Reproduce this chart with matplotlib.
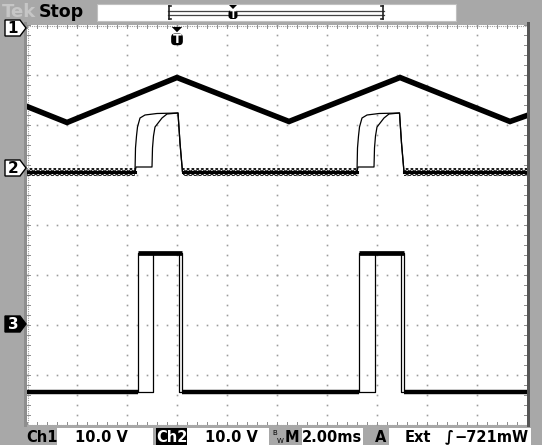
import matplotlib
matplotlib.use("Agg")
import matplotlib.pyplot as plt
from matplotlib.patches import Rectangle, Polygon, FancyBboxPatch
import numpy as np

# ---------------- data ----------------
time_div_ms = 2.0          # 2.00 ms/div
volts_per_div = 10.0       # 10.0 V/div

# Channel 1: triangle wave (breakpoints)
ch1_t_ms = [-6.0, -4.4, 0.0, 4.48, 8.92, 13.32, 14.0]
ch1_volts = [-15.8, -19.0, -10.0, -18.8, -10.0, -18.8, -17.6]

# Channel 2: two persisted acquisitions (A and B)
ch2a_t_ms = [-6.0, -1.68, -1.66, -1.62, -1.58, -1.48, -1.28, -0.8, 0.04, 0.12, 0.22,
             7.2, 7.22, 7.26, 7.30, 7.40, 7.60, 8.08, 8.90, 8.98, 9.08, 14.0]
ch2a_volts = [-0.8, -0.8, 4.0, 6.4, 8.2, 10.0, 10.6, 10.9, 11.0, 5.0, -0.8,
              -0.8, 4.0, 6.4, 8.2, 10.0, 10.6, 10.9, 11.0, 5.0, -0.8, -0.8]
ch2b_t_ms = [-6.0, -1.68, -1.64, -1.0, -0.98, -0.94, -0.88, -0.6, -0.4, 0.04, 0.12, 0.22,
             7.2, 7.24, 7.88, 7.90, 7.94, 8.00, 8.28, 8.48, 8.90, 8.98, 9.08, 14.0]
ch2b_volts = [-0.8, -0.8, 0.2, 0.2, 4.0, 6.4, 8.2, 10.0, 10.8, 11.0, 5.0, -0.8,
              -0.8, 0.2, 0.2, 4.0, 6.4, 8.2, 10.0, 10.8, 11.0, 5.0, -0.8, -0.8]

# Channel 3: two persisted pulse trains (edges in ms)
ch3_low_volts = -13.6
ch3_high_volts = 14.2
ch3a_rise_ms = [-1.56, 7.28]
ch3a_fall_ms = [0.08, 8.96]
ch3b_rise_ms = [-0.96, 7.92]
ch3b_fall_ms = [0.20, 9.08]

# On-screen readouts
top_status = ["Tek", "Stop"]
bottom_labels = ["Ch1", "10.0 V", "Ch2", "10.0 V", "2.00ms", "A", "Ext", "\u222b", "\u2212721mW"]

# ---------------- layout ----------------
W, H = 542, 445
T0, T1 = -6.0, 14.0
ch_offset_div = {1: 3.95, 2: 1.14, 3: -1.98}
GREY = "#a8a8a8"

fig = plt.figure(figsize=(W / 100, H / 100), dpi=100)
fig.patch.set_facecolor(GREY)

bg = fig.add_axes([0, 0, 1, 1], zorder=0)
bg.set_xlim(0, W)
bg.set_ylim(H, 0)
bg.axis("off")

px_l, px_r, px_t, px_b = 27, 527, 25, 425
ax = fig.add_axes([px_l / W, (H - px_b) / H, (px_r - px_l) / W, (px_b - px_t) / H], zorder=1)
ax.set_xlim(T0, T1)
ax.set_ylim(-4, 4)
ax.set_facecolor("white")
for s in ax.spines.values():
    s.set_visible(False)
ax.set_xticks([])
ax.set_yticks([])

ov = fig.add_axes([0, 0, 1, 1], zorder=3)
ov.set_xlim(0, W)
ov.set_ylim(H, 0)
ov.axis("off")
ov.patch.set_alpha(0)

# ---------------- graticule ----------------
dot_c = "#9c9c9c"
ys_fine = np.arange(-4, 4.001, 0.2)
xs_fine = np.arange(T0, T1 + 0.001, 0.4)
for k in range(1, 10):
    xv = T0 + k * time_div_ms
    ax.plot(np.full_like(ys_fine, xv), ys_fine, ls="none", marker="s", ms=1.2, color=dot_c, mew=0)
for j in range(1, 8):
    yv = -4 + j
    ax.plot(xs_fine, np.full_like(xs_fine, yv), ls="none", marker="s", ms=1.2, color=dot_c, mew=0)
# border with minor ticks
ax.plot([T0, T1], [3.99, 3.99], color="#a0a0a0", lw=0.8, ls=(0, (1, 1)))
ax.plot([T0, T1], [-3.99, -3.99], color="#a0a0a0", lw=0.8, ls=(0, (1, 1)))
ax.plot([T0 + 0.02, T0 + 0.02], [-4, 4], color="#a0a0a0", lw=0.8, ls=(0, (1, 1)))
tx = 0.06 * 2  # tick length ~3px in ms
ty = 0.06
for x in xs_fine:
    ax.plot([x, x], [4, 4 - ty], color="#8c8c8c", lw=0.7)
    ax.plot([x, x], [-4, -4 + ty], color="#8c8c8c", lw=0.7)
for y in ys_fine:
    ax.plot([T0, T0 + tx], [y, y], color="#8c8c8c", lw=0.7)
    ax.plot([T1, T1 - tx], [y, y], color="#8c8c8c", lw=0.7)


def to_div(ch, v):
    return ch_offset_div[ch] + np.asarray(v) / volts_per_div


# ---------------- traces ----------------
ax.plot(ch1_t_ms, to_div(1, ch1_volts), color="black", lw=4.0, solid_joinstyle="miter", zorder=5)

ax.plot(ch2a_t_ms, to_div(2, ch2a_volts), color="black", lw=0.9, zorder=5)
ax.plot(ch2b_t_ms, to_div(2, ch2b_volts), color="black", lw=0.9, zorder=5)
plt.rcParams["hatch.linewidth"] = 0.8
base2 = to_div(2, ch2a_volts[0])
for a, b in [(T0, ch2a_t_ms[1]), (ch2a_t_ms[10], ch2a_t_ms[11]), (ch2a_t_ms[20], T1)]:
    ax.fill_between([a, b], base2 - 0.085, base2 + 0.085, facecolor="none",
                    edgecolor="#202020", hatch="xxxxxxx", lw=0, zorder=4)
    ax.plot([a, b], [base2, base2], color="black", lw=2.2, zorder=5)


def step_path(rises, falls):
    t = [T0]
    v = [ch3_low_volts]
    for r, f in zip(rises, falls):
        t += [r, r, f, f]
        v += [ch3_low_volts, ch3_high_volts, ch3_high_volts, ch3_low_volts]
    t.append(T1)
    v.append(ch3_low_volts)
    return t, v


for rises, falls in [(ch3a_rise_ms, ch3a_fall_ms), (ch3b_rise_ms, ch3b_fall_ms)]:
    t, v = step_path(rises, falls)
    ax.plot(t, to_div(3, v), color="black", lw=0.9, zorder=5)
lo3 = to_div(3, ch3_low_volts)
hi3 = to_div(3, ch3_high_volts)
low_thick = [(T0, ch3a_rise_ms[0]), (ch3b_fall_ms[0], ch3a_rise_ms[1]), (ch3b_fall_ms[1], T1)]
for a, b in low_thick:
    ax.plot([a, b], [lo3, lo3], color="black", lw=3.2, zorder=5, solid_capstyle="butt")
for r, f in zip(ch3a_rise_ms, ch3b_fall_ms):
    ax.plot([r, f], [hi3, hi3], color="black", lw=3.4, zorder=5, solid_capstyle="butt")

# ---------------- frame / bars ----------------
bg.add_patch(Rectangle((24, 22), 3, 405, color="#8e8e8e", lw=0))
ov.add_patch(Rectangle((527, 22), 3, 405, color="#555555", lw=0))

# top bar
bg.text(2, 12, top_status[0], fontsize=13, fontweight="bold", color="#c6c6c6", va="center", ha="left")
bg.text(39, 12, top_status[1], fontsize=12.5, fontweight="bold", color="black", va="center", ha="left")
bg.add_patch(Rectangle((97, 4), 359, 17, facecolor="white", edgecolor="#c0c0c0", lw=0.8))
bg.plot([168, 384], [11, 11], color="#444444", lw=0.9)
bg.plot([168, 384], [14.5, 14.5], color="#444444", lw=0.9)
bg.plot([169, 169], [6, 19], color="#222222", lw=1.2)
bg.plot([169, 171], [6, 6], color="#222222", lw=1.2)
bg.plot([169, 171], [19, 19], color="#222222", lw=1.2)
bg.plot([383, 383], [6, 19], color="#222222", lw=1.2)
bg.plot([381, 383], [6, 6], color="#222222", lw=1.2)
bg.plot([381, 383], [19, 19], color="#222222", lw=1.2)


def trig_marker(xc, ytop, scale):
    ov.add_patch(Polygon([(xc - 4 * scale, ytop), (xc + 4 * scale, ytop), (xc, ytop + 4 * scale)],
                         closed=True, color="black", lw=0))
    ov.add_patch(FancyBboxPatch((xc - 4.5 * scale, ytop + 5 * scale), 9 * scale, 9 * scale,
                                boxstyle="round,pad=0,rounding_size=%.1f" % (3 * scale),
                                color="black", lw=0))
    ov.text(xc, ytop + 9.8 * scale, "T", color="white", fontsize=7 * scale, fontweight="bold",
            ha="center", va="center")


trig_marker(233, 5, 1.0)
trig_marker(177, 27, 1.3)


def ch_marker(n, ytip, dark):
    fc = "black" if dark else "white"
    tc = "white" if dark else "black"
    ov.add_patch(Polygon([(5, ytip - 8), (20, ytip - 8), (26, ytip), (20, ytip + 8), (5, ytip + 8)],
                         closed=True, facecolor=fc, edgecolor="black", lw=1.0))
    ov.text(13, ytip + 0.5, str(n), color=tc, fontsize=11, fontweight="bold", ha="center", va="center")


ch_marker(1, 28, False)
ch_marker(2, 168, False)
ch_marker(3, 324, True)

# bottom bar
yb = 437
bg.add_patch(Rectangle((57, 428), 96, 17, color="white", lw=0))
bg.add_patch(Rectangle((156, 428), 31, 17, color="black", lw=0))
bg.add_patch(Rectangle((187, 428), 82, 17, color="white", lw=0))
bg.add_patch(Rectangle((302, 428), 61, 17, color="white", lw=0))
bg.add_patch(Rectangle((389, 428), 142, 17, color="white", lw=0))
fs = 10.5
bg.text(26, yb, bottom_labels[0], fontsize=fs, fontweight="bold", ha="left", va="center")
bg.text(101, yb, bottom_labels[1], fontsize=fs, fontweight="bold", ha="center", va="center")
bg.text(171.5, yb, bottom_labels[2], fontsize=fs, fontweight="bold", ha="center", va="center", color="white")
bg.text(231, yb, bottom_labels[3], fontsize=fs, fontweight="bold", ha="center", va="center")
bg.text(275, 433, "B", fontsize=5, ha="center", va="center")
bg.text(280, 441, "W", fontsize=5, ha="center", va="center")
bg.text(292, yb, "M", fontsize=fs, fontweight="bold", ha="center", va="center")
bg.text(332, yb, bottom_labels[4], fontsize=fs, fontweight="bold", ha="center", va="center")
bg.text(381, yb, bottom_labels[5], fontsize=fs, fontweight="bold", ha="center", va="center")
bg.text(418, yb, bottom_labels[6], fontsize=fs, fontweight="bold", ha="center", va="center")
bg.text(449, yb, bottom_labels[7], fontsize=fs, fontweight="bold", ha="center", va="center")
bg.text(529, yb, bottom_labels[8], fontsize=fs, fontweight="bold", ha="right", va="center")

fig.savefig("out.png", dpi=100, facecolor=GREY)
